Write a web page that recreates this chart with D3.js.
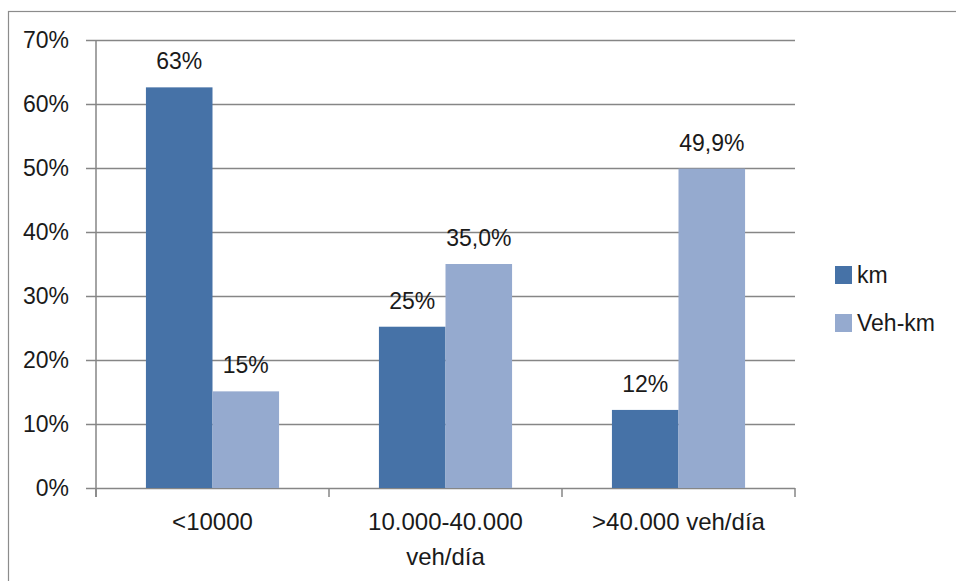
<!DOCTYPE html>
<html>
<head>
<meta charset="utf-8">
<script src="https://cdn.jsdelivr.net/npm/d3@7"></script>
<style>
  html, body { margin: 0; padding: 0; background: #fff; }
  svg { display: block; }
  text { font-family: "Liberation Sans", Arial, sans-serif; fill: #1a1a1a; }
</style>
</head>
<body>
<svg id="chart" width="956" height="581"></svg>
<script>
// Road network share by traffic volume (IMD)
const categories = [["<10000"], ["10.000-40.000", "veh/día"], [">40.000 veh/día"]];
const seriesNames = ["km", "Veh-km"];
const kmValues = [0.626, 0.252, 0.122];
const vehKmValues = [0.151, 0.350, 0.499];
const kmLabels = ["63%", "25%", "12%"];
const vehKmLabels = ["15%", "35,0%", "49,9%"];
const yTicks = [0, 0.1, 0.2, 0.3, 0.4, 0.5, 0.6, 0.7];
const colors = ["#4672A7", "#95AACF"];

const svg = d3.select("#chart");
const W = 956, H = 581;
const plot = { left: 96, right: 795, top: 40, bottom: 488 };

// outer chart frame
svg.append("rect")
  .attr("x", 8.5).attr("y", 11.5)
  .attr("width", W + 20).attr("height", H + 20)
  .attr("fill", "none").attr("stroke", "#8c8c8c").attr("stroke-width", 1.2);

const y = d3.scaleLinear().domain([0, 0.7]).range([plot.bottom, plot.top]);
const x0 = d3.scaleBand().domain(d3.range(categories.length))
  .range([plot.left, plot.right]).paddingInner(0).paddingOuter(0);
// gap width of 150% between clusters
const x1 = d3.scaleBand().domain(d3.range(seriesNames.length))
  .range([0, x0.bandwidth()]).paddingInner(0).paddingOuter(0.75);

// gridlines
const gy = svg.append("g").attr("transform", `translate(${plot.right},0)`);
gy.call(d3.axisLeft(y).tickValues(yTicks).tickSize(plot.right - plot.left + 10).tickFormat(""));
gy.select(".domain").remove();
gy.selectAll(".tick line").attr("stroke", "#868686").attr("stroke-width", 1.5);

// y axis labels
const gLabels = svg.append("g").attr("transform", `translate(${plot.left},0)`);
gLabels.call(d3.axisLeft(y).tickValues(yTicks).tickSize(0).tickPadding(27).tickFormat(d3.format(".0%")));
gLabels.select(".domain").remove();
gLabels.selectAll(".tick text")
  .attr("font-family", "Liberation Sans, Arial, sans-serif")
  .attr("font-size", 23).attr("fill", "#1a1a1a");

// vertical axis line
svg.append("line")
  .attr("x1", plot.left).attr("x2", plot.left)
  .attr("y1", plot.top).attr("y2", plot.bottom + 9)
  .attr("stroke", "#868686").attr("stroke-width", 1.5);

// category ticks on the x axis
const xTickPos = d3.range(categories.length + 1).map(i => plot.left + i * x0.step());
svg.append("g").selectAll("line").data(xTickPos).join("line")
  .attr("x1", d => d).attr("x2", d => d)
  .attr("y1", plot.bottom).attr("y2", plot.bottom + 9)
  .attr("stroke", "#868686").attr("stroke-width", 1.5);

// bars
const series = [kmValues, vehKmValues];
const seriesLabels = [kmLabels, vehKmLabels];
series.forEach((vals, s) => {
  svg.append("g").selectAll("rect").data(vals).join("rect")
    .attr("x", (d, i) => x0(i) + x1(s))
    .attr("width", x1.bandwidth())
    .attr("y", d => y(d))
    .attr("height", d => plot.bottom - y(d))
    .attr("fill", colors[s]);
});

// data labels
series.forEach((vals, s) => {
  svg.append("g").selectAll("text").data(vals).join("text")
    .attr("x", (d, i) => x0(i) + x1(s) + x1.bandwidth() / 2)
    .attr("y", d => y(d) - 18)
    .attr("text-anchor", "middle")
    .attr("font-size", 23)
    .text((d, i) => seriesLabels[s][i]);
});

// category labels
const cat = svg.append("g").selectAll("text").data(categories).join("text")
  .attr("x", (d, i) => x0(i) + x0.bandwidth() / 2)
  .attr("y", 530)
  .attr("text-anchor", "middle")
  .attr("font-size", 24);
cat.selectAll("tspan").data(d => d).join("tspan")
  .attr("x", function () { return this.parentNode.getAttribute("x"); })
  .attr("dy", (d, j) => j === 0 ? 0 : 35)
  .text(d => d);

// legend
const legend = svg.append("g");
seriesNames.forEach((name, s) => {
  const ly = 266 + s * 48;
  legend.append("rect")
    .attr("x", 835).attr("y", ly)
    .attr("width", 17).attr("height", 18)
    .attr("fill", colors[s]);
  legend.append("text")
    .attr("x", 857).attr("y", ly + 17)
    .attr("font-size", 23)
    .text(name);
});
</script>
</body>
</html>
